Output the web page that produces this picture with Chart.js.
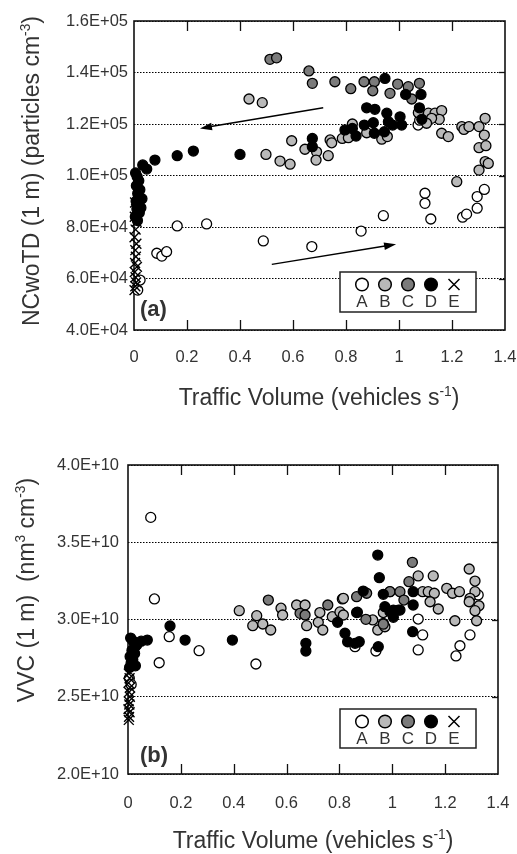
<!DOCTYPE html>
<html>
<head>
<meta charset="utf-8">
<script src="https://cdn.jsdelivr.net/npm/chart.js@4.4.1/dist/chart.umd.min.js"></script>
<style>
  html, body { margin: 0; padding: 0; background: #fff; }
  #page { position: relative; width: 517px; height: 854px; }
  .panel { position: absolute; left: 0; width: 517px; }
  canvas { display: block; }
</style>
</head>
<body>
<div id="page">
  <div class="panel" style="top:0;height:425px"><canvas id="chartA" width="517" height="425"></canvas></div>
  <div class="panel" style="top:425px;height:429px"><canvas id="chartB" width="517" height="429"></canvas></div>
</div>
<script>
// Traffic volume (vehicles s-1) vs particle number, panel (a)
const aX_A = [0.014, 0.023, 0.086, 0.105, 0.123, 0.163, 0.274, 0.488, 0.671, 0.857, 0.941, 1.072, 1.078, 1.098, 1.098, 1.120, 1.240, 1.255, 1.295, 1.295, 1.322];
const aY_A = [5.55e4, 5.94e4, 6.98e4, 6.87e4, 7.04e4, 8.04e4, 8.12e4, 7.46e4, 7.24e4, 7.84e4, 8.44e4, 11.96e4, 12.15e4, 9.31e4, 8.92e4, 8.31e4, 8.38e4, 8.50e4, 8.73e4, 9.18e4, 9.46e4];

const aX_B = [0.434, 0.484, 0.498, 0.551, 0.589, 0.595, 0.645, 0.689, 0.687, 0.733, 0.740, 0.746, 0.786, 0.809, 0.824, 0.878, 0.935, 0.956, 1.073, 1.111, 1.136, 1.161, 1.152, 1.123, 1.104, 1.161, 1.186, 1.237, 1.245, 1.264, 1.302, 1.325, 1.322, 1.302, 1.328, 1.325, 1.337, 1.302, 1.218];
const aY_B = [12.97e4, 12.83e4, 10.82e4, 10.56e4, 10.44e4, 11.35e4, 11.02e4, 10.92e4, 10.60e4, 10.77e4, 11.38e4, 11.27e4, 11.44e4, 11.47e4, 12.00e4, 11.66e4, 11.41e4, 11.51e4, 12.44e4, 12.42e4, 12.42e4, 12.52e4, 12.18e4, 12.22e4, 12.03e4, 11.64e4, 11.51e4, 11.90e4, 11.79e4, 11.90e4, 11.90e4, 12.22e4, 11.57e4, 11.08e4, 11.16e4, 10.54e4, 10.47e4, 10.21e4, 9.76e4];

const aX_C = [0.513, 0.538, 0.660, 0.673, 0.758, 0.818, 0.868, 0.907, 0.901, 0.995, 0.966, 1.035, 1.048, 1.077];
const aY_C = [14.51e4, 14.57e4, 14.06e4, 13.58e4, 13.64e4, 13.37e4, 13.64e4, 13.64e4, 13.29e4, 13.55e4, 13.19e4, 13.45e4, 12.97e4, 13.58e4];

const aX_D = [0.947, 1.025, 1.083, 0.878, 0.909, 0.954, 1.004, 1.077, 1.086, 0.869, 0.903, 0.960, 0.976, 1.010, 0.796, 0.824, 0.838, 0.907, 0.945, 0.673, 0.673, 0.400, 0.224, 0.163, 0.079, 0.033, 0.048,
              0.006, 0.012, 0.018, 0.009, 0.022, 0.014, 0.030, 0.008, 0.017, 0.011, 0.020, 0.005, 0.013, 0.026];
const aY_D = [13.77e4, 13.15e4, 13.15e4, 12.63e4, 12.57e4, 12.42e4, 12.28e4, 12.63e4, 12.18e4, 11.96e4, 12.05e4, 12.09e4, 11.96e4, 11.96e4, 11.77e4, 11.83e4, 11.53e4, 11.64e4, 11.70e4, 11.44e4, 11.12e4, 10.82e4, 10.95e4, 10.77e4, 10.60e4, 10.41e4, 10.25e4,
              10.10e4, 9.95e4, 9.80e4, 9.60e4, 9.45e4, 9.30e4, 9.10e4, 9.00e4, 8.85e4, 8.70e4, 8.55e4, 8.40e4, 8.25e4, 8.75e4];

const aX_E = [0.004, 0.008, 0.003, 0.010, 0.006, 0.002, 0.009, 0.005, 0.007, 0.004, 0.011, 0.003, 0.006, 0.008, 0.005, 0.002];
const aY_E = [8.95e4, 8.70e4, 8.40e4, 8.20e4, 7.90e4, 7.60e4, 7.35e4, 7.10e4, 6.85e4, 6.60e4, 6.45e4, 6.25e4, 6.05e4, 5.85e4, 5.70e4, 5.55e4];

// hysteresis arrows in data units: [x0, y0, x1, y1], head at the second point
const aArrows = [[0.714, 12.63e4, 0.249, 11.83e4], [0.520, 6.55e4, 0.989, 7.33e4]];

// panel (b): volume concentration
const bX_A = [0.086, 0.100, 0.156, 0.118, 0.269, 0.484, 0.859, 0.938, 1.098, 1.115, 1.098, 1.294, 1.256, 1.241, 1.325, 0.005, 0.012];
const bY_A = [3.661e10, 3.133e10, 2.889e10, 2.720e10, 2.798e10, 2.712e10, 2.824e10, 2.796e10, 3.003e10, 2.900e10, 2.803e10, 2.900e10, 2.830e10, 2.764e10, 3.159e10, 2.62e10, 2.58e10];

const bX_B = [0.421, 0.487, 0.472, 0.510, 0.540, 0.579, 0.585, 0.638, 0.670, 0.676, 0.720, 0.737, 0.726, 0.773, 0.802, 0.815, 0.811, 0.815, 0.926, 0.945, 0.966, 0.972, 0.966, 1.098, 1.155, 1.115, 1.136, 1.159, 1.206, 1.228, 1.254, 1.313, 1.143, 1.174, 1.237, 1.291, 1.294, 1.319, 1.328, 1.313, 1.291, 1.313, 0.991];
const bY_B = [3.057e10, 3.025e10, 2.960e10, 2.971e10, 2.932e10, 3.073e10, 3.029e10, 3.094e10, 3.094e10, 2.960e10, 2.982e10, 2.932e10, 3.045e10, 3.018e10, 3.049e10, 3.029e10, 3.133e10, 3.137e10, 2.997e10, 2.932e10, 2.975e10, 2.953e10, 3.045e10, 3.282e10, 3.282e10, 3.180e10, 3.180e10, 3.170e10, 3.202e10, 3.170e10, 3.180e10, 3.180e10, 3.115e10, 3.068e10, 2.992e10, 3.327e10, 3.137e10, 2.992e10, 3.089e10, 3.249e10, 3.115e10, 3.057e10, 3.180e10];

const bX_C = [0.531, 0.651, 0.670, 0.756, 0.865, 0.900, 0.991, 1.029, 1.044, 1.063, 1.076, 0.903, 0.966];
const bY_C = [3.126e10, 3.040e10, 3.029e10, 3.094e10, 3.148e10, 3.001e10, 3.180e10, 3.180e10, 3.126e10, 3.245e10, 3.370e10, 3.170e10, 2.970e10];

const bX_D = [0.945, 0.951, 0.966, 0.890, 1.079, 0.865, 1.004, 1.023, 1.079, 0.673, 0.673, 0.793, 0.821, 0.831, 0.859, 0.875, 0.868, 0.947, 0.972, 0.991, 1.004, 1.029, 1.077, 0.159, 0.216, 0.395, 0.073, 0.050,
              0.010, 0.020, 0.030, 0.015, 0.025, 0.008, 0.035, 0.018, 0.012, 0.028, 0.006, 0.022];
const bY_D = [3.417e10, 3.271e10, 3.163e10, 3.184e10, 3.180e10, 3.045e10, 3.061e10, 3.061e10, 3.094e10, 2.846e10, 2.796e10, 2.982e10, 2.911e10, 2.856e10, 2.846e10, 2.856e10, 3.047e10, 2.824e10, 3.083e10, 3.051e10, 3.014e10, 3.061e10, 2.921e10, 2.958e10, 2.867e10, 2.867e10, 2.867e10, 2.860e10,
              2.88e10, 2.86e10, 2.83e10, 2.80e10, 2.78e10, 2.76e10, 2.84e10, 2.74e10, 2.72e10, 2.70e10, 2.69e10, 2.81e10];

const bX_E = [0.003, 0.006, 0.002, 0.008, 0.004, 0.007, 0.003, 0.005, 0.002, 0.006, 0.004, 0.003];
const bY_E = [2.65e10, 2.62e10, 2.59e10, 2.56e10, 2.53e10, 2.50e10, 2.47e10, 2.45e10, 2.42e10, 2.40e10, 2.37e10, 2.35e10];

const groupNames = ['A', 'B', 'C', 'D', 'E'];
const groupFill = { A: '#ffffff', B: '#b9b9b9', C: '#7b7b7b', D: '#000000', E: '#000000' };

const FONT = '"Liberation Sans", Arial, Helvetica, sans-serif';
const TEXT = '#333';

function sciLabel(v) {
  const [m, e] = Number(v).toExponential(1).split('e');
  return m + 'E' + e[0] + e.slice(1).padStart(2, '0');
}

function pairs(xs, ys) {
  return xs.map((x, i) => ({ x, y: ys[i] }));
}

function makeDatasets(src) {
  // crosses on top, then D, C, B, A underneath
  const order = { E: 0, D: 1, C: 2, B: 3, A: 4 };
  return groupNames.map(g => ({
    label: g,
    data: pairs(src[g][0], src[g][1]),
    order: order[g],
    clip: false,
    pointStyle: g === 'E' ? 'crossRot' : 'circle',
    pointRadius: g === 'E' ? 7 : 5,
    pointBorderWidth: g === 'E' ? 1.4 : 1.3,
    pointBackgroundColor: groupFill[g],
    pointBorderColor: '#000',
  }));
}

// text with superscript pieces, optionally rotated for a vertical axis
function drawRich(ctx, parts, size, cx, cy, rotate) {
  const small = size * 0.6;
  let w = 0;
  parts.forEach(p => {
    ctx.font = `${p.sup ? small : size}px ${FONT}`;
    p.w = ctx.measureText(p.t).width;
    w += p.w;
  });
  ctx.save();
  ctx.translate(cx, cy);
  if (rotate) ctx.rotate(-Math.PI / 2);
  ctx.fillStyle = TEXT;
  ctx.textAlign = 'left';
  ctx.textBaseline = 'alphabetic';
  let x = -w / 2;
  const base = size * 0.36;
  parts.forEach(p => {
    ctx.font = `${p.sup ? small : size}px ${FONT}`;
    ctx.fillText(p.t, x, base - (p.sup ? size * 0.42 : 0));
    x += p.w;
  });
  ctx.restore();
}

function drawArrow(ctx, x0, y0, x1, y1) {
  const ang = Math.atan2(y1 - y0, x1 - x0);
  const len = 12, half = 3.8;
  ctx.beginPath();
  ctx.moveTo(x0, y0);
  ctx.lineTo(x1 - Math.cos(ang) * len * 0.8, y1 - Math.sin(ang) * len * 0.8);
  ctx.stroke();
  ctx.beginPath();
  ctx.moveTo(x1, y1);
  ctx.lineTo(x1 - Math.cos(ang) * len - Math.sin(ang) * half, y1 - Math.sin(ang) * len + Math.cos(ang) * half);
  ctx.lineTo(x1 - Math.cos(ang) * len + Math.sin(ang) * half, y1 - Math.sin(ang) * len - Math.cos(ang) * half);
  ctx.closePath();
  ctx.fill();
}

const panelDecor = {
  id: 'panelDecor',
  beforeDatasetsDraw(chart) {
    const { ctx, chartArea: a, scales: { x, y } } = chart;
    ctx.save();
    ctx.strokeStyle = '#111';
    ctx.lineWidth = 1.3;
    // inward tick marks along top and bottom edges
    x.ticks.forEach(t => {
      if (t.value <= x.min || t.value >= x.max) return;
      const px = Math.round(x.getPixelForValue(t.value)) + 0.5;
      ctx.beginPath();
      ctx.moveTo(px, a.bottom); ctx.lineTo(px, a.bottom - 10);
      ctx.moveTo(px, a.top); ctx.lineTo(px, a.top + 10);
      ctx.stroke();
    });
    // short solid ticks on the right edge
    y.ticks.forEach(t => {
      if (t.value <= y.min || t.value >= y.max) return;
      const py = Math.round(y.getPixelForValue(t.value)) + 0.5;
      ctx.beginPath();
      ctx.moveTo(a.right, py); ctx.lineTo(a.right - 6, py);
      ctx.stroke();
    });
    ctx.lineWidth = 1.6;
    ctx.strokeRect(a.left, a.top, a.right - a.left, a.bottom - a.top);
    ctx.restore();
  },
  afterDatasetsDraw(chart, args, opts) {
    const { ctx, scales: { x, y } } = chart;
    ctx.save();
    ctx.strokeStyle = '#000';
    ctx.fillStyle = '#000';
    ctx.lineWidth = 1.4;
    (opts.arrows || []).forEach(([x0, y0, x1, y1]) => {
      drawArrow(ctx, x.getPixelForValue(x0), y.getPixelForValue(y0), x.getPixelForValue(x1), y.getPixelForValue(y1));
    });

    // legend box
    const [lx, ly, lw, lh] = opts.legendBox;
    ctx.fillStyle = '#fff';
    ctx.fillRect(lx, ly, lw, lh);
    ctx.strokeStyle = '#222';
    ctx.lineWidth = 1.5;
    ctx.strokeRect(lx, ly, lw, lh);
    const symY = ly + 12.5, txtY = ly + 30;
    groupNames.forEach((g, i) => {
      const cx = lx + 22 + i * 23;
      ctx.strokeStyle = '#000';
      ctx.lineWidth = 1.5;
      if (g === 'E') {
        ctx.beginPath();
        ctx.moveTo(cx - 5.5, symY - 5.5); ctx.lineTo(cx + 5.5, symY + 5.5);
        ctx.moveTo(cx + 5.5, symY - 5.5); ctx.lineTo(cx - 5.5, symY + 5.5);
        ctx.stroke();
      } else {
        ctx.beginPath();
        ctx.arc(cx, symY, 6.3, 0, Math.PI * 2);
        ctx.fillStyle = groupFill[g];
        ctx.fill();
        ctx.stroke();
      }
      ctx.fillStyle = TEXT;
      ctx.font = `17px ${FONT}`;
      ctx.textAlign = 'center';
      ctx.textBaseline = 'middle';
      ctx.fillText(g, cx, txtY);
    });

    // panel tag
    ctx.fillStyle = TEXT;
    ctx.font = `bold 22px ${FONT}`;
    ctx.textAlign = 'left';
    ctx.textBaseline = 'alphabetic';
    ctx.fillText(opts.tag[0], opts.tag[1], opts.tag[2]);
    ctx.restore();
  },
  afterDraw(chart, args, opts) {
    const { ctx } = chart;
    drawRich(ctx, opts.yTitle, 23, opts.yTitlePos[0], opts.yTitlePos[1], true);
    drawRich(ctx, opts.xTitle, 23, opts.xTitlePos[0], opts.xTitlePos[1], false);
  }
};

function buildChart(canvasId, src, cfg) {
  return new Chart(document.getElementById(canvasId), {
    type: 'scatter',
    data: { datasets: makeDatasets(src) },
    plugins: [panelDecor],
    options: {
      responsive: false,
      animation: false,
      events: [],
      layout: { padding: { top: cfg.padTop, right: cfg.padRight, left: 0, bottom: 0 } },
      scales: {
        x: {
          type: 'linear',
          min: 0,
          max: 1.4,
          afterFit: s => {
            s.height = cfg.xHeight;
            s.paddingLeft = 0;
            s.paddingRight = 0;
          },
          ticks: {
            stepSize: 0.2,
            padding: cfg.xTickPad,
            color: TEXT,
            font: { family: FONT, size: 16.5 },
            maxRotation: 0,
            callback: v => String(+Number(v).toFixed(1)),
          },
          grid: { display: false },
          border: { display: false },
        },
        y: {
          type: 'linear',
          min: cfg.yMin,
          max: cfg.yMax,
          afterFit: s => {
            s.width = cfg.yWidth;
            s.paddingTop = 0;
            s.paddingBottom = 0;
          },
          ticks: {
            stepSize: cfg.yStep,
            padding: cfg.yTickPad,
            color: TEXT,
            font: { family: FONT, size: 16.5 },
            callback: v => sciLabel(v),
          },
          grid: { color: '#000', lineWidth: 1, drawTicks: false },
          border: { display: false, dash: [1.5, 1.5] },
        },
      },
      plugins: {
        legend: { display: false },
        tooltip: { enabled: false },
        panelDecor: cfg.decor,
      },
    },
  });
}

const xTitleParts = [{ t: 'Traffic Volume (vehicles s' }, { t: '-1', sup: true }, { t: ')' }];

buildChart('chartA', {
  A: [aX_A, aY_A], B: [aX_B, aY_B], C: [aX_C, aY_C], D: [aX_D, aY_D], E: [aX_E, aY_E],
}, {
  padTop: 21, padRight: 12, xHeight: 95, yWidth: 134, xTickPad: 10, yTickPad: 6,
  yMin: 4e4, yMax: 1.6e5, yStep: 2e4,
  decor: {
    arrows: aArrows,
    legendBox: [340, 272, 136, 40],
    tag: ['(a)', 140, 316],
    yTitle: [{ t: 'NCwoTD (1 m) (particles cm' }, { t: '-3', sup: true }, { t: ')' }],
    yTitlePos: [31, 171],
    xTitle: xTitleParts,
    xTitlePos: [319, 397],
  },
});

buildChart('chartB', {
  A: [bX_A, bY_A], B: [bX_B, bY_B], C: [bX_C, bY_C], D: [bX_D, bY_D], E: [bX_E, bY_E],
}, {
  padTop: 40, padRight: 19, xHeight: 80, yWidth: 128, xTickPad: 12, yTickPad: 9,
  yMin: 2e10, yMax: 4e10, yStep: 5e9,
  decor: {
    arrows: [],
    legendBox: [340, 284, 136, 39],
    tag: ['(b)', 140, 337],
    yTitle: [{ t: 'VVC (1 m)  (nm' }, { t: '3', sup: true }, { t: ' cm' }, { t: '-3', sup: true }, { t: ')' }],
    yTitlePos: [26, 165],
    xTitle: xTitleParts,
    xTitlePos: [313, 415],
  },
});
</script>
</body>
</html>
